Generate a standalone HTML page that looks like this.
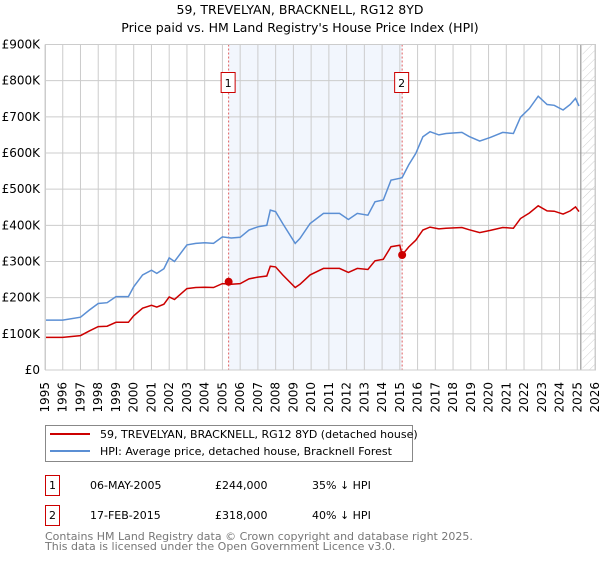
<!DOCTYPE html>
<html><head><meta charset="utf-8"><style>
body{margin:0;background:#fff;}
svg{font-family:"DejaVu Sans","Liberation Sans",sans-serif;}
</style></head><body>
<svg id="c" width="600" height="560" viewBox="0 0 600 560">
<defs><pattern id="hatch" patternUnits="userSpaceOnUse" width="6" height="6" patternTransform="rotate(45)"><line x1="0" y1="0" x2="0" y2="6" stroke="#cfcfcf" stroke-width="1"/></pattern></defs>
<text x="300" y="14" text-anchor="middle" font-size="12.5">59, TREVELYAN, BRACKNELL, RG12 8YD</text>
<text x="300" y="32" text-anchor="middle" font-size="12.5">Price paid vs. HM Land Registry's House Price Index (HPI)</text>
<g id="plot"></g>
<g>
<rect x="45.5" y="425.5" width="367" height="36" fill="#fff" stroke="#888"/>
<line x1="50" y1="434" x2="90" y2="434" stroke="#cc0000" stroke-width="2"/>
<text x="100" y="438" font-size="11">59, TREVELYAN, BRACKNELL, RG12 8YD (detached house)</text>
<line x1="50" y1="451" x2="90" y2="451" stroke="#5b8fd4" stroke-width="2"/>
<text x="100" y="455" font-size="11">HPI: Average price, detached house, Bracknell Forest</text>
</g>
<g font-size="11">
<rect x="45.5" y="475.5" width="14" height="20" fill="#fff" stroke="#cc0000"/>
<text x="52.5" y="489" text-anchor="middle">1</text>
<text x="90" y="489">06-MAY-2005</text><text x="215" y="489">£244,000</text><text x="312" y="489">35% ↓ HPI</text>
<rect x="45.5" y="505.5" width="14" height="20" fill="#fff" stroke="#cc0000"/>
<text x="52.5" y="519" text-anchor="middle">2</text>
<text x="90" y="519">17-FEB-2015</text><text x="215" y="519">£318,000</text><text x="312" y="519">40% ↓ HPI</text>
</g>
<text x="45" y="540" font-size="11" fill="#777">Contains HM Land Registry data © Crown copyright and database right 2025.</text>
<text x="45" y="550" font-size="11" fill="#777">This data is licensed under the Open Government Licence v3.0.</text>
</svg>
<script>
const hpiYears=[1995,1996,1997,1997.5,1998,1998.5,1999,1999.7,2000,2000.5,2001,2001.3,2001.7,2002,2002.3,2003,2003.5,2004,2004.5,2005,2005.5,2006,2006.5,2007,2007.5,2007.7,2008,2008.4,2009.1,2009.37,2009.94,2010.7,2011.6,2012.1,2012.6,2013.2,2013.6,2014.07,2014.5,2015.0,2015.13,2015.5,2015.9,2016.3,2016.7,2017.2,2017.6,2018.5,2018.9,2019.5,2020.1,2020.8,2021.4,2021.8,2022.3,2022.8,2023.3,2023.7,2024.2,2024.6,2024.9,2025.1];
const hpiValues=[138,138,146,166,184,186,203,203,230,263,276,267,280,310,300,346,350,352,350,368,365,367,387,396,400,442,438,405,350,364,405,433,433,416,433,428,465,470,525,530,532,567,599,645,659,650,654,657,646,633,643,657,654,699,723,757,734,732,719,734,751,730];
const priceValues=[90,90,95,108,120,121,132,132,150,171,179,174,182,202,195,225,228,229,228,239,237,239,252,257,260,287,285,263,228,237,263,281,281,270,281,278,302,306,341,345,318,340,359,387,395,390,392,394,388,380,386,394,392,419,434,454,440,439,431,440,451,438];
const yTicks=[0,100,200,300,400,500,600,700,800,900];
const yTickLabels=["£0","£100K","£200K","£300K","£400K","£500K","£600K","£700K","£800K","£900K"];
const sales=[{n:"1",t:2005.35,v:244},{n:"2",t:2015.13,v:318}];
const x0=45,x1=595,y0=370,y1=44.5,t0=1995,t1=2026,vmax=900;
const X=t=>x0+(t-t0)/(t1-t0)*(x1-x0);
const Y=v=>y0-v/vmax*(y0-y1);
const NS="http://www.w3.org/2000/svg";
const g=document.getElementById('plot');
function mk(tag,attrs,parent){const e=document.createElementNS(NS,tag);for(const k in attrs)e.setAttribute(k,attrs[k]);(parent||g).appendChild(e);return e;}
let e;
e=mk('rect',{x:X(sales[0].t),y:y1,width:X(sales[1].t)-X(sales[0].t),height:y0-y1,fill:'#f2f6fd'});


e=mk('rect',{x:X(2025.3),y:y1,width:x1-X(2025.3),height:y0-y1,fill:'url(#hatch)'});


for(let t=t0;t<=t1;t++){
 e=mk('line',{x1:X(t),y1:y1,x2:X(t),y2:y0,stroke:'#cccccc','stroke-width':1});
 
 
 e=mk('text',{x:0,y:0,'font-size':12,'text-anchor':'end','dominant-baseline':'central',transform:`translate(${X(t)},382) rotate(-90)`});
 e.textContent=String(t);
 
 
}
yTicks.forEach((v,i)=>{
 e=mk('line',{x1:x0,y1:Y(v),x2:x1,y2:Y(v),stroke:'#cccccc','stroke-width':1});
 
 
 e=mk('text',{x:40,y:Y(v)+4,'font-size':12,'text-anchor':'end'});
 e.textContent=yTickLabels[i];
 
 
});
e=mk('line',{x1:X(2025.2),y1:y1,x2:X(2025.2),y2:y0,stroke:'#999','stroke-width':1.2});


sales.forEach(s=>{
 e=mk('line',{x1:X(s.t),y1:y1,x2:X(s.t),y2:y0,stroke:'#e06060','stroke-width':1,'stroke-dasharray':'2,2'});
 
 
});
const pts=(vals)=>hpiYears.map((t,i)=>X(t).toFixed(1)+','+Y(vals[i]).toFixed(1)).join(' ');
e=mk('polyline',{points:pts(hpiValues),fill:'none',stroke:'#5b8fd4','stroke-width':1.5});


e=mk('polyline',{points:pts(priceValues),fill:'none',stroke:'#cc0000','stroke-width':1.5});


sales.forEach(s=>{
 e=mk('circle',{cx:X(s.t),cy:Y(s.v),r:4,fill:'#cc0000'});
 
 
 e=mk('rect',{x:X(s.t)-7.5,y:72.5,width:14,height:20,fill:'#fff',stroke:'#cc0000'});
 
 
 e=mk('text',{x:X(s.t)-0.5,y:87,'font-size':11,'text-anchor':'middle'});
 e.textContent=s.n;
 
 
});
e=mk('rect',{x:x0+0.5,y:y1,width:x1-x0,height:y0-y1,fill:'none',stroke:'#cccccc'});


</script>
</body></html>
